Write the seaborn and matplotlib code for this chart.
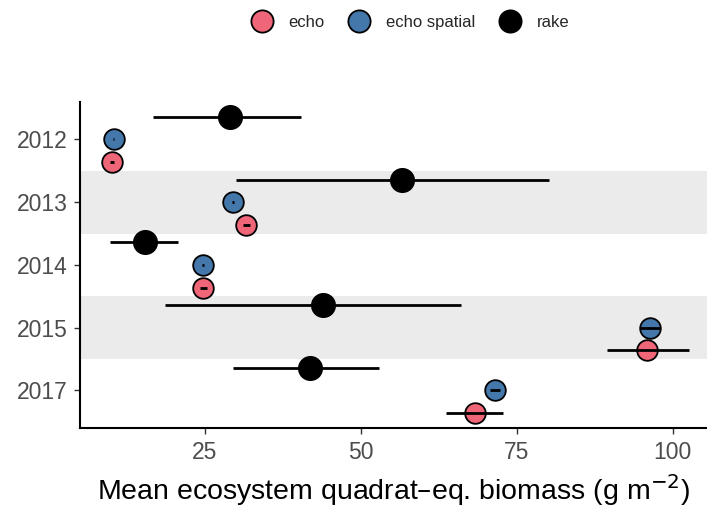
import numpy as np
import pandas as pd
import matplotlib
matplotlib.use("Agg")
import matplotlib.pyplot as plt
import seaborn as sns
from matplotlib.lines import Line2D

years = ["2012", "2013", "2014", "2015", "2017"]
methods = ["echo", "echo spatial", "rake"]

echo_mean = [10.1, 31.7, 24.8, 95.9, 68.3]
echo_lo = [9.8, 31.1, 24.2, 89.4, 63.6]
echo_hi = [10.4, 32.3, 25.4, 102.6, 72.8]

spatial_mean = [10.4, 29.5, 24.7, 96.4, 71.6]
spatial_lo = [10.3, 29.3, 24.5, 94.8, 70.8]
spatial_hi = [10.5, 29.7, 24.9, 98.0, 72.4]

rake_mean = [29.0, 56.6, 15.5, 43.9, 41.8]
rake_lo = [16.7, 30.0, 9.8, 18.6, 29.6]
rake_hi = [40.5, 80.1, 20.8, 66.0, 53.0]

colors = {"echo": "#EE6677", "echo spatial": "#4477AA", "rake": "#000000"}
offsets = {"echo": 0.36, "echo spatial": 0.0, "rake": -0.36}
sizes = {"echo": 220, "echo spatial": 220, "rake": 280}

rows = []
for m, mean, lo, hi in [("echo", echo_mean, echo_lo, echo_hi),
                        ("echo spatial", spatial_mean, spatial_lo, spatial_hi),
                        ("rake", rake_mean, rake_lo, rake_hi)]:
    for i, y in enumerate(years):
        rows.append(dict(year=y, method=m, mean=mean[i], lo=lo[i], hi=hi[i],
                         pos=i + offsets[m]))
df = pd.DataFrame(rows)

sns.set_style("white")
plt.rcParams["font.family"] = ["Liberation Sans", "DejaVu Sans"]

fig = plt.figure(figsize=(7.07, 5.09), dpi=100)
ax = fig.add_axes([0.113, 0.159, 0.887, 0.641])

for i in [1, 3]:
    ax.axhspan(i - 0.5, i + 0.5, color="#EBEBEB", lw=0, zorder=0)

for m in methods:
    d = df[df.method == m]
    sns.scatterplot(data=d, x="mean", y="pos", color=colors[m], s=sizes[m],
                    edgecolor="black", linewidth=1.3, ax=ax, zorder=3, legend=False)
    ax.hlines(d["pos"], d["lo"], d["hi"], color="black", lw=2, zorder=4)

ax.set_xlim(5, 105.5)
ax.set_ylim(4.6, -0.6)
ax.set_yticks(range(len(years)))
ax.set_yticklabels(years)
ax.set_xticks([25, 50, 75, 100])
ax.set_ylabel("")
ax.set_xlabel("Mean ecosystem quadrat\u2013eq. biomass (g m$^{-2}$)", fontsize=20.5, color="black", labelpad=6)
ax.tick_params(axis="both", labelsize=16.5, colors="#4D4D4D", length=4, width=1, direction="out",
               bottom=True, left=True, pad=5)
ax.tick_params(axis="both", color="#333333")
for s in ["top", "right"]:
    ax.spines[s].set_visible(False)
for s in ["left", "bottom"]:
    ax.spines[s].set_color("black")
    ax.spines[s].set_linewidth(1.5)

handles = [Line2D([], [], marker="o", linestyle="", markersize=16,
                  markerfacecolor=colors[m], markeredgecolor="black", markeredgewidth=1.3, label=m)
           for m in methods]
fig.legend(handles=handles, loc="upper center", bbox_to_anchor=(0.576, 1.0), ncol=3,
           frameon=False, fontsize=12, handletextpad=0.6, columnspacing=1.1)

fig.savefig("out.png", dpi=100)
